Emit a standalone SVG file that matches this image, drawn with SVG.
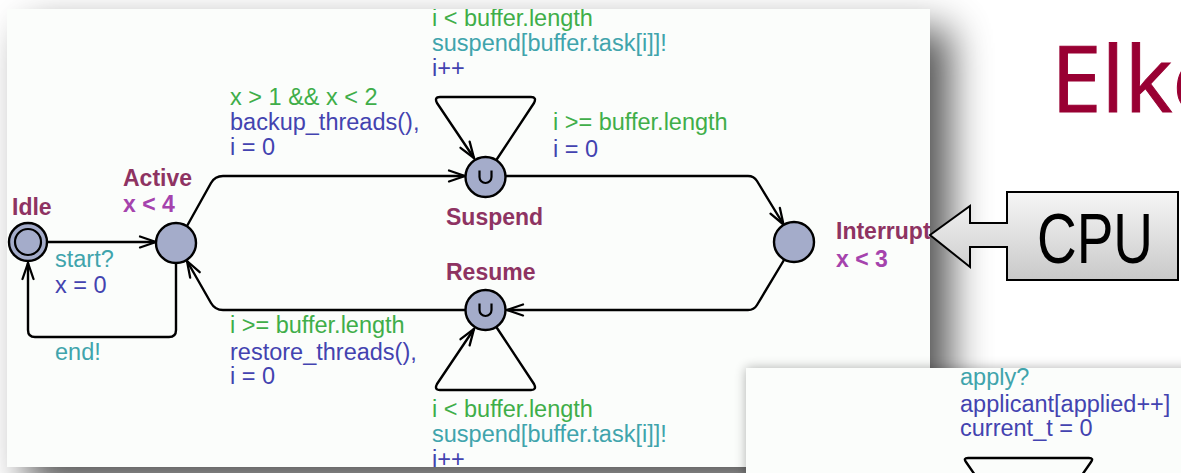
<svg xmlns="http://www.w3.org/2000/svg" width="1181" height="473" viewBox="0 0 1181 473">
<defs>
<style>
.t{font-family:"Liberation Sans",Arial,sans-serif;font-size:23.5px}
.nm{font-family:"Liberation Sans",Arial,sans-serif;font-size:23px;font-weight:bold;fill:#8e3362}
.inv{font-family:"Liberation Sans",Arial,sans-serif;font-size:23px;font-weight:bold;fill:#a543ad}
.g{fill:#3fae49}
.s{fill:#40a4ac}
.a{fill:#4343b0}
.e{fill:none;stroke:#000;stroke-width:2.4;stroke-linejoin:round;stroke-linecap:round}
.loc{fill:#a4acca;stroke:#000;stroke-width:2.4}
</style>
<marker id="arr" markerUnits="userSpaceOnUse" markerWidth="24" markerHeight="16" viewBox="-20 -8 24 16" refX="0" refY="0" orient="auto">
<path d="M-16,-5.5 L0,0 L-16,5.5" fill="none" stroke="#000" stroke-width="2.3" stroke-linecap="round" stroke-linejoin="round"/>
</marker>
<filter id="sh" x="-10%" y="-10%" width="120%" height="120%">
<feGaussianBlur stdDeviation="20"/>
</filter>
<filter id="sh2" x="-10%" y="-30%" width="120%" height="160%">
<feGaussianBlur stdDeviation="6"/>
</filter>
<clipPath id="mainclip"><rect x="7" y="9" width="923" height="458"/></clipPath>
<clipPath id="clip2"><rect x="746" y="368" width="435" height="105"/></clipPath>
<linearGradient id="cpug" x1="0" y1="0" x2="0" y2="1">
<stop offset="0" stop-color="#f6f6f6"/>
<stop offset="1" stop-color="#c9c9c9"/>
</linearGradient>
</defs>
<rect x="0" y="0" width="1181" height="473" fill="#ffffff"/>
<rect x="27" y="29" width="923" height="458" fill="#000" opacity="0.68" filter="url(#sh)"/>
<rect x="7" y="9" width="923" height="458" fill="#fbfdfb"/>
<text x="1051" y="112" style="font-family:'Open Sans','Liberation Sans',sans-serif;font-size:91px;fill:#990033;stroke:#990033;stroke-width:1">Elke</text>
<g clip-path="url(#mainclip)">
<g id="connectors">
<path class="e" d="M48,242 L156,242" marker-end="url(#arr)"/>
<path class="e" d="M176,263 L176,330 Q176,337 169,337 L35,337 Q28,337 28,330 L28,263" marker-end="url(#arr)"/>
<path class="e" d="M187,226 L211,183 Q215,176 223,176 L465,176" marker-end="url(#arr)"/>
<path class="e" d="M497,159 L534,103 Q537,97 531,97 L440,97 Q434,97 437,103 L474,158" marker-end="url(#arr)"/>
<path class="e" d="M506,176 L748,176 Q754,176 757,181 L783.5,224.5" marker-end="url(#arr)"/>
<path class="e" d="M784,260 L757,305 Q754,310 748,310 L507,310" marker-end="url(#arr)"/>
<path class="e" d="M497,328 L534,384 Q537,390 531,390 L440,390 Q434,390 437,384 L474,329" marker-end="url(#arr)"/>
<path class="e" d="M465,310 L223,310 Q215,310 211,303 L187,261" marker-end="url(#arr)"/>
</g>
<g id="Idle">
<circle class="loc" cx="28" cy="242" r="19"/>
<circle cx="28" cy="242" r="13" fill="none" stroke="#000" stroke-width="2.2"/>
<text class="nm" x="12" y="215">Idle</text>
</g>
<g id="Active">
<circle class="loc" cx="176" cy="243" r="20"/>
<text class="nm" x="123" y="186">Active</text>
<text class="inv" x="123" y="212">x &lt; 4</text>
</g>
<g id="Suspend">
<circle class="loc" cx="485.5" cy="177" r="20"/>
<path d="M479.5,170.5 v6.5 a6,6 0 0 0 12,0 v-6.5" fill="none" stroke="#000" stroke-width="2.2"/>
<text class="nm" x="446" y="225">Suspend</text>
</g>
<g id="Resume">
<circle class="loc" cx="485.5" cy="310" r="20"/>
<path d="M479.5,303.5 v6.5 a6,6 0 0 0 12,0 v-6.5" fill="none" stroke="#000" stroke-width="2.2"/>
<text class="nm" x="446" y="280">Resume</text>
</g>
<g id="Interrupt">
<circle class="loc" cx="794" cy="242" r="20"/>
<text class="nm" x="836" y="239">Interrupt</text>
<text class="inv" x="836" y="267">x &lt; 3</text>
</g>
<g id="labels">
<text class="t g" x="432" y="26">i &lt; buffer.length</text>
<text class="t s" x="432" y="51">suspend[buffer.task[i]]!</text>
<text class="t a" x="432" y="76">i++</text>
<text class="t g" x="553" y="130">i &gt;= buffer.length</text>
<text class="t a" x="553" y="157">i = 0</text>
<text class="t g" x="230" y="105">x &gt; 1 &amp;&amp; x &lt; 2</text>
<text class="t a" x="230" y="130">backup_threads(),</text>
<text class="t a" x="230" y="155">i = 0</text>
<text class="t s" x="55" y="267">start?</text>
<text class="t a" x="55" y="293">x = 0</text>
<text class="t s" x="55" y="360">end!</text>
<text class="t g" x="230" y="333">i &gt;= buffer.length</text>
<text class="t a" x="230" y="360">restore_threads(),</text>
<text class="t a" x="230" y="384">i = 0</text>
<text class="t g" x="432" y="417">i &lt; buffer.length</text>
<text class="t s" x="432" y="442">suspend[buffer.task[i]]!</text>
<text class="t a" x="432" y="467">i++</text>
</g>
</g>
<rect x="746" y="368" width="460" height="120" fill="#000" opacity="0.3" filter="url(#sh2)"/>
<rect x="746" y="368" width="435" height="105" fill="#fbfdfb"/>
<g clip-path="url(#clip2)">
<g id="panel2">
<text class="t s" x="960" y="385">apply?</text>
<text class="t a" x="960" y="412">applicant[applied++]</text>
<text class="t a" x="960" y="436">current_t = 0</text>
<path class="e" d="M975,475 L966,462 Q963,458 968,458 L1089,458 Q1094,458 1091,462 L1082,475"/>
</g>
</g>
<g id="CPU">
<path d="M930,235 L970,206 L970,223 L1007,223 L1007,192 L1178,192 L1178,280 L1007,280 L1007,247 L970,247 L970,267 Z" fill="url(#cpug)" stroke="#000" stroke-width="2" stroke-linejoin="miter"/>
<text x="1037" y="263" textLength="116" lengthAdjust="spacingAndGlyphs" style="font-family:'Liberation Sans',Arial,sans-serif;font-size:70px;fill:#000">CPU</text>
</g>
</svg>
